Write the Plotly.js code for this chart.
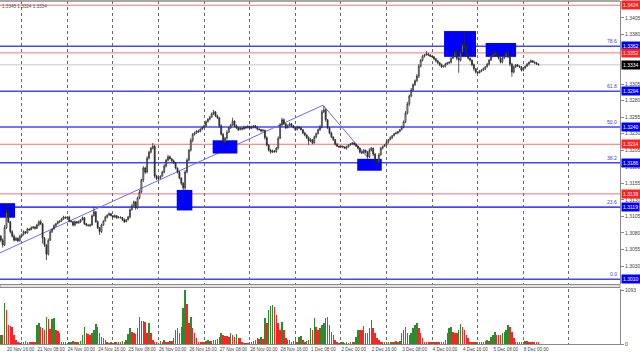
<!DOCTYPE html>
<html><head><meta charset="utf-8">
<script src="https://cdn.plot.ly/plotly-3.0.1.min.js"></script>
<style>html,body{margin:0;padding:0;background:#fff}#c{width:640px;height:356px}</style>
</head><body><div id="c"></div>
<script>
// hourly bars, index 0 = 21 Nov 00:00 (weekends skipped)
const startIndex = -11;
const firstOpen = 1.3075;
const closes = [
1.3069,1.3062,1.3088,1.3112,1.3097,1.3082,1.3075,1.3069,1.3072,1.3068,1.3075,
1.3078,1.3082,1.3080,1.3086,1.3085,1.3088,1.3089,1.3087,1.3092,1.3097,1.3094,1.3072,1.3062,1.3048,1.3069,1.3082,1.3086,1.3091,1.3094,1.3097,1.3098,1.3101,1.3104,1.3103,
1.3104,1.3098,1.3097,1.3092,1.3097,1.3095,1.3097,1.3100,1.3103,1.3094,1.3092,1.3091,1.3092,1.3106,1.3112,1.3097,1.3088,1.3082,1.3092,1.3098,1.3104,1.3107,1.3109,1.3106,
1.3104,1.3106,1.3103,1.3104,1.3103,1.3100,1.3097,1.3100,1.3104,1.3115,1.3121,1.3127,1.3118,1.3133,1.3142,1.3160,1.3178,1.3172,1.3193,1.3202,1.3208,1.3211,1.3166,1.3162,
1.3163,1.3166,1.3172,1.3181,1.3190,1.3195,1.3192,1.3189,1.3186,1.3178,1.3172,1.3163,1.3155,1.3148,1.3172,1.3190,1.3205,1.3220,1.3229,1.3231,1.3234,1.3233,1.3237,1.3239,
1.3242,1.3248,1.3252,1.3255,1.3260,1.3263,1.3257,1.3254,1.3242,1.3229,1.3217,1.3223,1.3232,1.3239,1.3243,1.3249,1.3242,1.3239,1.3236,1.3238,1.3237,1.3240,1.3239,1.3241,
1.3238,1.3240,1.3242,1.3239,1.3237,1.3236,1.3234,1.3235,1.3224,1.3213,1.3205,1.3202,1.3204,1.3203,1.3208,1.3223,1.3243,1.3251,1.3245,1.3239,1.3242,1.3245,1.3242,1.3239,
1.3236,1.3240,1.3239,1.3236,1.3231,1.3228,1.3224,1.3219,1.3221,1.3216,1.3225,1.3230,1.3236,1.3240,1.3263,1.3266,1.3251,1.3239,1.3231,1.3225,1.3221,1.3214,1.3211,1.3210,
1.3211,1.3210,1.3208,1.3210,1.3213,1.3214,1.3216,1.3214,1.3211,1.3208,1.3202,1.3201,1.3205,1.3202,1.3195,1.3205,1.3208,1.3199,1.3190,1.3187,1.3198,1.3208,1.3211,1.3213,
1.3217,1.3221,1.3224,1.3227,1.3230,1.3231,1.3233,1.3236,1.3240,1.3248,1.3261,1.3275,1.3287,1.3296,1.3304,1.3310,1.3317,1.3332,1.3341,1.3347,1.3349,1.3350,1.3349,1.3347,
1.3346,1.3343,1.3340,1.3337,1.3334,1.3331,1.3332,1.3335,1.3337,1.3338,1.3344,1.3347,1.3353,1.3344,1.3341,1.3353,1.3365,1.3362,1.3349,1.3344,1.3341,1.3334,1.3328,1.3323,
1.3322,1.3325,1.3326,1.3328,1.3331,1.3335,1.3341,1.3347,1.3350,1.3352,1.3349,1.3344,1.3338,1.3344,1.3347,1.3352,1.3346,1.3335,1.3323,1.3331,1.3334,1.3332,1.3331,1.3326,
1.3329,1.3332,1.3335,1.3338,1.3340,1.3338,1.3337,1.3335,1.3334];
// wick sizes in pips above max(open,close) / below min(open,close)
const upWick = [
2,3,4,13,2,1,2,3,2,1,2,
1,2,1,2,1,2,1,1,2,2,3,1,2,1,3,2,1,2,1,2,1,2,2,1,
1,2,1,1,2,1,2,1,2,1,1,1,2,2,7,1,2,1,2,1,2,1,2,1,
1,2,1,1,1,1,2,1,2,2,3,2,1,2,3,2,3,2,3,2,2,5,2,2,
2,1,2,3,2,3,2,1,2,1,1,2,1,2,3,3,2,3,2,2,1,2,1,2,
2,2,1,2,2,3,1,2,1,2,2,2,3,2,2,5,1,2,1,2,1,2,1,2,
1,2,1,1,2,1,1,2,1,2,1,2,2,1,2,3,3,3,2,1,2,2,1,1,
1,2,1,1,1,2,1,2,2,1,2,2,2,3,3,6,2,1,1,2,1,1,2,1,
1,1,1,2,1,2,1,1,1,1,1,2,2,1,2,3,2,1,2,1,3,2,1,1,
2,1,2,1,1,2,1,1,2,2,3,3,2,3,2,2,3,3,2,2,1,5,2,1,
1,1,1,1,1,2,1,2,1,1,2,2,3,6,2,3,3,17,2,2,1,1,2,1,
1,1,1,2,1,2,2,2,2,4,1,1,2,2,2,4,2,1,2,2,1,1,1,1,
1,1,2,1,2,1,1,1,1];
const downWick = [
3,4,2,2,2,3,2,2,1,2,1,
1,2,2,1,2,1,2,2,1,2,2,8,3,9,2,1,2,1,2,1,2,1,1,2,
2,2,1,2,2,1,1,2,1,2,2,1,2,1,1,2,2,5,2,1,1,2,1,1,
1,1,2,1,1,2,2,1,1,2,1,1,3,2,2,2,3,3,2,2,2,2,3,2,
2,2,1,2,2,2,1,2,2,2,2,2,3,23,3,2,2,2,3,2,1,2,1,2,
1,2,1,2,1,2,2,2,3,2,6,2,2,1,2,1,2,2,2,1,2,1,2,1,
1,1,2,1,2,1,2,1,3,2,2,2,1,2,2,2,1,2,2,2,1,1,2,1,
2,1,2,1,2,2,2,6,2,2,1,2,1,2,2,2,3,2,2,2,2,2,1,2,
1,2,1,2,1,1,1,2,1,2,2,2,1,2,3,2,2,3,2,6,2,1,2,1,
1,2,1,2,1,1,2,1,1,2,2,2,3,2,2,2,2,3,2,2,2,1,2,1,
1,2,2,2,2,2,1,2,1,2,2,1,2,3,19,2,2,3,3,2,2,2,3,2,
2,1,2,1,2,1,2,1,2,1,2,2,2,2,1,2,2,3,7,2,2,1,2,2,
2,1,1,2,1,1,2,1,1];
const volumes = [
182,180,823,690,385,365,350,180,80,50,30,
50,45,60,50,48,45,40,40,385,430,350,330,285,550,500,300,500,520,285,265,215,50,50,40,
25,35,45,65,45,40,50,55,180,350,215,200,180,215,285,400,350,215,150,115,80,50,30,35,
30,40,40,35,50,60,40,80,200,320,250,215,195,320,550,465,465,450,215,430,215,80,50,40,
30,60,45,80,50,50,60,60,115,285,320,215,350,720,1093,810,420,540,320,215,115,50,40,35,
35,60,80,65,60,80,80,95,150,230,180,160,160,150,230,180,150,200,115,115,50,30,30,30,
40,40,60,80,115,95,150,95,520,420,690,770,790,755,590,420,285,450,285,115,80,80,50,60,
80,45,150,160,80,50,60,80,320,285,520,350,285,320,385,420,520,550,385,250,180,80,40,30,
35,45,30,45,30,40,40,50,150,285,285,285,370,215,215,320,485,320,215,115,80,50,40,50,
35,40,50,40,40,60,45,60,215,285,350,215,180,215,320,385,430,320,215,115,50,40,35,35,
40,40,40,40,35,45,50,80,215,320,340,250,215,215,285,400,350,285,180,115,50,40,40,50,
35,45,40,50,60,80,60,150,180,250,180,180,180,215,250,285,385,350,250,115,50,40,40,50,
50,60,60,45,40,40,45,40,40];

const timeTickIdx = [-8,8,24,40,56,72,88,104,120,136,152,168,184,200,216,232,248,264];
const timeTickText = ['20 Nov 16:00','21 Nov 08:00','24 Nov 00:00','24 Nov 16:00','25 Nov 08:00','26 Nov 00:00','26 Nov 16:00','27 Nov 08:00','28 Nov 00:00','28 Nov 16:00','1 Dec 08:00','2 Dec 00:00','2 Dec 16:00','3 Dec 08:00','4 Dec 00:00','4 Dec 16:00','5 Dec 08:00','8 Dec 00:00'];
const dayGridIdx = [0,24,48,72,96,120,144,168,192,216,240,264,288];
// tick labels visible on the price scale (others are covered by level labels)
const priceTicks = [1.3405,1.3380,1.3305,1.3280,1.3255,1.3230,1.3205,1.3180,1.3155,1.3130,1.3105,1.3080,1.3055,1.3030];
const fibPrices = [1.3362,1.3294,1.3240,1.3186,1.3119,1.3010];
const fibNames = ['78.6','61.8','50.0','38.2','23.6','0.0'];
const redPrices = [1.3424,1.3352,1.3214,1.3139];
const currentPrice = 1.3334;
const volTicks = [0,1093];
// zones: [fromIdx, toIdx, lowPrice, highPrice]
const zones = [[-11.5,-3.5,1.3103,1.3125],[81.6,89.8,1.3114,1.3145],[100.5,113.5,1.3200,1.3220],[176.6,189.5,1.3174,1.3192],[222.3,239.1,1.3346,1.3385],[244.2,260.2,1.3346,1.3367]];
// trend lines: [idx0, price0, idx1, price1]
const trendLines = [[-11.42,1.3050,158.6,1.3273],[158.6,1.3273,181.8,1.3195]];

const x = closes.map((_, k) => startIndex + k);
const opens = closes.map((c, k) => k === 0 ? firstOpen : closes[k-1]);
const highs = closes.map((c, k) => Math.max(opens[k], c) + upWick[k] * 0.0001);
const lows = closes.map((c, k) => Math.min(opens[k], c) - downWick[k] * 0.0001);
const volColors = volumes.map((v, k) => (k === 0 || v > volumes[k-1]) ? '#2a8c2a' : '#ff2222');

const H = 356, T = 1, B = 12, plotH = H - T - B;
const py = (y) => (H - B - y) / plotH; // pixel row -> paper fraction

const BLUE = '#4646ff', RED = '#ff6e6e';
const shapes = [];
fibPrices.forEach(p => shapes.push({type:'line', xref:'paper', x0:0, x1:1, yref:'y', y0:p, y1:p, line:{color:BLUE, width:1.6}, layer:'between'}));
redPrices.forEach(p => shapes.push({type:'line', xref:'paper', x0:0, x1:1, yref:'y', y0:p, y1:p, line:{color:RED, width:1}, layer:'between'}));
shapes.push({type:'line', xref:'paper', x0:0, x1:1, yref:'y', y0:currentPrice, y1:currentPrice, line:{color:'#c8c8c8', width:1}, layer:'between'});
trendLines.forEach(t => shapes.push({type:'line', xref:'x', yref:'y', x0:t[0], y0:t[1], x1:t[2], y1:t[3], line:{color:'#6b6bff', width:1}, layer:'between'}));
zones.forEach(z => shapes.push({type:'rect', xref:'x', yref:'y', x0:z[0], x1:z[1], y0:z[2], y1:z[3], fillcolor:'#0000ff', line:{width:0}, layer:'between'}));
// pane separator and top border
shapes.push({type:'rect', xref:'paper', yref:'paper', x0:0, x1:1, y0:py(287.5), y1:py(284.5), fillcolor:'#e4e4e4', line:{color:'#8a8a8a', width:1}});
shapes.push({type:'line', xref:'paper', yref:'paper', x0:0, x1:1, y0:1, y1:1, line:{color:'#8a8a8a', width:1.5}});

const annotations = [];
const fmt = p => p.toFixed(4);
fibPrices.forEach((p, k) => {
  annotations.push({xref:'paper', x:1, xanchor:'left', xshift:1, yref:'y', y:p, yanchor:'middle', text:fmt(p), showarrow:false, bgcolor:'#0000ff', borderpad:1, font:{family:'Liberation Sans, Arial', size:5, color:'#fff'}});
  annotations.push({xref:'paper', x:1, xanchor:'right', xshift:-1, yref:'y', y:p, yanchor:'bottom', text:fibNames[k], showarrow:false, font:{family:'Liberation Sans, Arial', size:5, color:'#3a3aff'}});
});
redPrices.forEach(p => annotations.push({xref:'paper', x:1, xanchor:'left', xshift:1, yref:'y', y:p, yanchor:'middle', text:fmt(p), showarrow:false, bgcolor:'#ff2020', borderpad:1, font:{family:'Liberation Sans, Arial', size:5, color:'#fff'}}));
annotations.push({xref:'paper', x:1, xanchor:'left', xshift:1, yref:'y', y:currentPrice, yanchor:'middle', text:fmt(currentPrice), showarrow:false, bgcolor:'#000', borderpad:1, font:{family:'Liberation Sans, Arial', size:5, color:'#fff'}});
annotations.push({xref:'paper', x:0, xanchor:'left', yref:'paper', y:1, yanchor:'top', yshift:-1, text:'1.3345 1.3324 1.3334', showarrow:false, font:{family:'Liberation Sans, Arial', size:4.6, color:'#555'}});

const data = [
  {type:'candlestick', x:x, open:opens, high:highs, low:lows, close:closes, xaxis:'x', yaxis:'y',
   increasing:{line:{color:'#2a2a2a', width:0.8}, fillcolor:'#ffffff'},
   decreasing:{line:{color:'#2a2a2a', width:0.8}, fillcolor:'#2a2a2a'},
   whiskerwidth:0, hoverinfo:'skip', showlegend:false},
  {type:'bar', x:x, y:volumes, xaxis:'x', yaxis:'y2', marker:{color:volColors, line:{width:0}}, width:0.75, hoverinfo:'skip', showlegend:false}
];

const tickFont = {family:'Liberation Sans, Arial', size:5, color:'#444'};
const layout = {
  width:640, height:356, margin:{l:0, r:20, t:T, b:B, pad:0},
  paper_bgcolor:'#fff', plot_bgcolor:'#fff', showlegend:false, bargap:0,
  xaxis:{range:[-11.42, 314.9], anchor:'y2', rangeslider:{visible:false}, showgrid:false, zeroline:false,
    tickmode:'array', tickvals:timeTickIdx, ticktext:timeTickText, ticks:'', tickangle:0, ticklabelposition:'outside right',
    tickfont:{family:'Liberation Sans, Arial', size:4.6, color:'#444'}, automargin:false,
    showline:true, linecolor:'#8a8a8a', linewidth:1,
    minor:{tickmode:'array', tickvals:dayGridIdx, showgrid:true, griddash:'dot', gridcolor:'#6a6a6a', gridwidth:1, ticks:''}},
  yaxis:{domain:[py(284), 1], range:[1.30029, 1.34304], side:'right', anchor:'x', showgrid:false, zeroline:false,
    tickmode:'array', tickvals:priceTicks, ticktext:priceTicks.map(fmt), ticks:'outside', ticklen:3, tickcolor:'#8a8a8a',
    tickfont:tickFont, showline:true, linecolor:'#8a8a8a', linewidth:1, automargin:false},
  yaxis2:{domain:[0, py(289)], range:[0, 1115], side:'right', anchor:'x', showgrid:false, zeroline:false,
    tickmode:'array', tickvals:volTicks, ticktext:volTicks.map(String), ticks:'outside', ticklen:3, tickcolor:'#8a8a8a',
    tickfont:tickFont, showline:true, linecolor:'#8a8a8a', linewidth:1, automargin:false},
  shapes:shapes, annotations:annotations
};
Plotly.newPlot('c', data, layout, {staticPlot:true, displayModeBar:false});
</script></body></html>
